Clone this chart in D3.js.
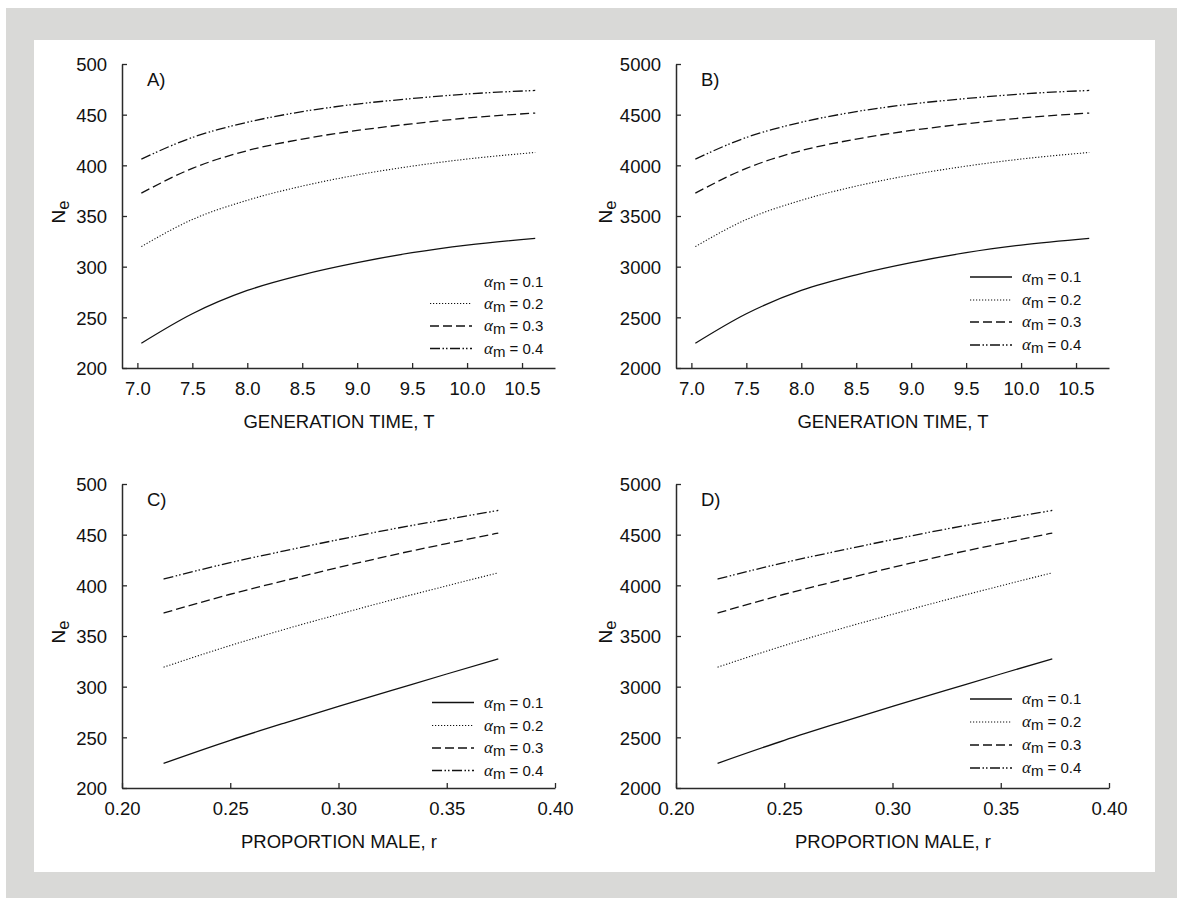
<!DOCTYPE html>
<html>
<head>
<meta charset="utf-8">
<script src="https://cdn.jsdelivr.net/npm/d3@7"></script>
<style>
  body { margin: 0; background: #fff; }
  text { font-family: "Liberation Sans", Arial, Helvetica, sans-serif; fill: #111; }
</style>
</head>
<body>
<div id="chart"></div>
<script>
// ---- data ----
const alphas = [0.1, 0.2, 0.3, 0.4];

// panels A and B: generation time on x
const genTime = [7.036, 7.5, 8.0, 8.5, 9.0, 9.5, 10.0, 10.62];
const neA_01 = [224.4, 253.5, 276.5, 292.0, 304.0, 313.8, 321.3, 328.0];
const neA_02 = [319.8, 346.5, 365.5, 379.5, 390.5, 399.2, 406.2, 412.7];
const neA_03 = [372.6, 397.0, 414.5, 425.9, 434.4, 441.0, 446.7, 451.6];
const neA_04 = [406.2, 427.5, 442.5, 453.0, 460.5, 465.9, 470.4, 473.9];
const neB_01 = [2244, 2535, 2765, 2920, 3040, 3138, 3213, 3280];
const neB_02 = [3198, 3465, 3655, 3795, 3905, 3992, 4062, 4127];
const neB_03 = [3726, 3970, 4145, 4259, 4344, 4410, 4467, 4516];
const neB_04 = [4062, 4275, 4425, 4530, 4605, 4659, 4704, 4739];

// panels C and D: proportion male on x
const propMale = [0.2192, 0.25, 0.275, 0.30, 0.325, 0.35, 0.3738];
const neC_01 = [224.4, 247.1, 264.1, 280.5, 296.5, 312.5, 327.4];
const neC_02 = [319.2, 340.6, 356.5, 371.4, 385.8, 399.5, 412.4];
const neC_03 = [372.6, 391.2, 404.6, 417.6, 429.9, 441.2, 451.6];
const neC_04 = [406.2, 422.4, 434.0, 445.1, 455.6, 465.1, 473.9];
const neD_01 = [2244, 2471, 2641, 2805, 2965, 3125, 3274];
const neD_02 = [3192, 3406, 3565, 3714, 3858, 3995, 4124];
const neD_03 = [3726, 3912, 4046, 4176, 4299, 4412, 4516];
const neD_04 = [4062, 4224, 4340, 4451, 4556, 4651, 4739];

const ticksT = [7.0, 7.5, 8.0, 8.5, 9.0, 9.5, 10.0, 10.5];
const ticksR = [0.20, 0.25, 0.30, 0.35, 0.40];
const ticksSmall = [200, 250, 300, 350, 400, 450, 500];
const ticksLarge = [2000, 2500, 3000, 3500, 4000, 4500, 5000];

// ---- layout ----
const W = 1177, H = 898;
const svg = d3.select("#chart").append("svg")
  .attr("width", W).attr("height", H);

svg.append("rect").attr("x", 6).attr("y", 8).attr("width", W - 6).attr("height", H - 8)
  .attr("fill", "#d9d9d7");
svg.append("rect").attr("x", 34).attr("y", 40).attr("width", 1121).attr("height", 832)
  .attr("fill", "#fff");

const dashes = [null, "1.2,1.8", "9,4", "10,2.5,1.5,2,1.5,2.5"];
const plotW = 433, plotH = 304;
const fs = 18.5;

const panels = [
  { label: "A)", x0: 122, y0: 64, xDom: [6.86, 10.8], xs: genTime, ys: [neA_01, neA_02, neA_03, neA_04],
    xt: ticksT, xfmt: d3.format(".1f"), yDom: [200, 500], yt: ticksSmall, title: "GENERATION TIME, T", yOff: 57,
    leg: { x0: 308, x1: 350, tx: 362, rows: [217.5, 239.5, 262, 284.5], skipFirst: true } },
  { label: "B)", x0: 676, y0: 64, xDom: [6.86, 10.8], xs: genTime, ys: [neB_01, neB_02, neB_03, neB_04],
    xt: ticksT, xfmt: d3.format(".1f"), yDom: [2000, 5000], yt: ticksLarge, title: "GENERATION TIME, T", yOff: 64,
    leg: { x0: 294, x1: 336, tx: 346, rows: [213, 236, 258, 281], skipFirst: false } },
  { label: "C)", x0: 122, y0: 484, xDom: [0.2, 0.4], xs: propMale, ys: [neC_01, neC_02, neC_03, neC_04],
    xt: ticksR, xfmt: d3.format(".2f"), yDom: [200, 500], yt: ticksSmall, title: "PROPORTION MALE, r", yOff: 57,
    leg: { x0: 310, x1: 352, tx: 362, rows: [218.5, 241.5, 264, 286.5], skipFirst: false } },
  { label: "D)", x0: 676, y0: 484, xDom: [0.2, 0.4], xs: propMale, ys: [neD_01, neD_02, neD_03, neD_04],
    xt: ticksR, xfmt: d3.format(".2f"), yDom: [2000, 5000], yt: ticksLarge, title: "PROPORTION MALE, r", yOff: 64,
    leg: { x0: 294, x1: 336, tx: 346, rows: [215, 238, 261, 284], skipFirst: false } }
];

panels.forEach(p => {
  const g = svg.append("g").attr("transform", `translate(${p.x0},${p.y0})`);
  const x = d3.scaleLinear().domain(p.xDom).range([0, plotW]);
  const y = d3.scaleLinear().domain(p.yDom).range([plotH, 0]);

  // x axis, ticks pointing inward
  const xa = g.append("g").attr("transform", `translate(0,${plotH})`)
    .call(d3.axisBottom(x).tickValues(p.xt).tickFormat(p.xfmt).tickSizeInner(-5).tickSizeOuter(0).tickPadding(14));
  // y axis
  const ya = g.append("g")
    .call(d3.axisLeft(y).tickValues(p.yt).tickFormat(d3.format("d")).tickSizeInner(-5).tickSizeOuter(0).tickPadding(15));
  [xa, ya].forEach(a => {
    a.attr("font-size", fs).attr("font-family", null);
    a.select(".domain").attr("stroke", "#2a2a2a").attr("stroke-width", 1.5);
    a.selectAll(".tick line").attr("stroke", "#2a2a2a").attr("stroke-width", 1.3);
    a.selectAll("text").attr("font-size", fs).attr("fill", "#111");
  });
  ya.selectAll("text").attr("dy", "0.37em");
  xa.selectAll("text").attr("dy", "0.72em");

  // curves
  const line = d3.line().x((d, i) => x(p.xs[i])).y(d => y(d)).curve(d3.curveMonotoneX);
  p.ys.forEach((s, k) => {
    g.append("path").attr("d", line(s)).attr("fill", "none")
      .attr("stroke", "#111").attr("stroke-width", k === 1 ? 1.1 : 1.3)
      .attr("stroke-dasharray", dashes[k]);
  });

  // panel label
  g.append("text").attr("x", 25).attr("y", 22).attr("font-size", fs).text(p.label);

  // x title
  g.append("text").attr("x", plotW / 2 + 0.5).attr("y", plotH + 60)
    .attr("text-anchor", "middle").attr("font-size", fs).text(p.title);

  // y title N_e
  const yt = svg.append("text")
    .attr("transform", `translate(${p.x0 - p.yOff},${p.y0 + plotH / 2 - 4}) rotate(-90)`)
    .attr("text-anchor", "middle").attr("font-size", 19);
  yt.append("tspan").text("N");
  yt.append("tspan").attr("dy", 4).attr("font-size", 16.5).text("e");

  // legend
  alphas.forEach((a, k) => {
    const ry = p.leg.rows[k];
    if (!(k === 0 && p.leg.skipFirst)) {
      g.append("line").attr("x1", p.leg.x0).attr("x2", p.leg.x1).attr("y1", ry).attr("y2", ry)
        .attr("stroke", "#111").attr("stroke-width", k === 1 ? 1.1 : 1.3)
        .attr("stroke-dasharray", dashes[k]);
    }
    const t = g.append("text").attr("x", p.leg.tx).attr("y", ry + 5).attr("font-size", 15);
    t.append("tspan").attr("font-family", "\"Liberation Serif\", \"DejaVu Serif\", serif")
      .attr("font-style", "italic").attr("font-size", 17).text("α");
    t.append("tspan").attr("dy", 3).text("m");
    t.append("tspan").attr("dy", -3).text(" = " + a.toFixed(1));
  });
});
</script>
</body>
</html>
